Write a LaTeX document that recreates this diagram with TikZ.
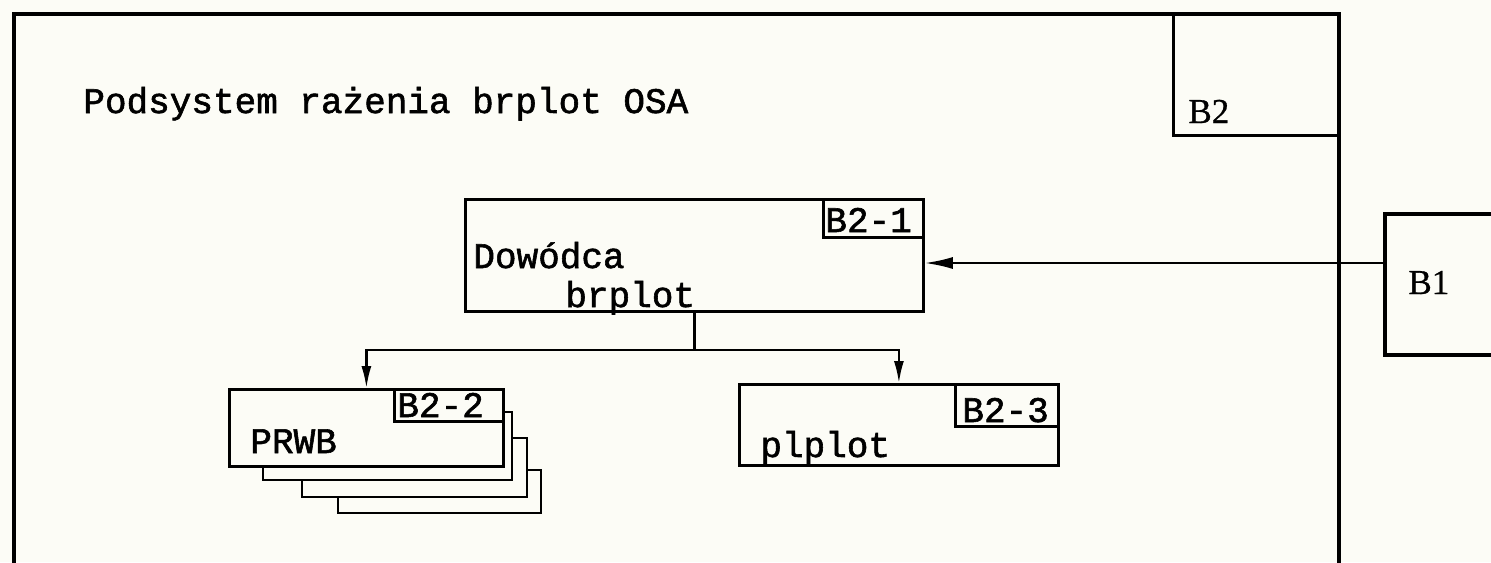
\documentclass[tikz,border=0pt]{standalone}
\usepackage{fontspec}
\newfontfamily\maszyna[FakeBold=1.6]{Liberation Mono}
\newfontfamily\szeryf[FakeBold=0.8]{Liberation Serif}
\usetikzlibrary{arrows.meta, positioning, calc}
\definecolor{papier}{RGB}{252,252,246}

\begin{document}
\begin{tikzpicture}[
            x=0.5pt,
            y=-0.5pt,
            >={Latex[length=11pt,width=5pt]},
            blok/.style={draw, line width=1.4pt, anchor=north west, inner sep=0pt},
            etykieta/.style={draw, line width=1.3pt, anchor=north east, inner sep=0pt},
            napis/.style={anchor=base west, inner sep=0pt, font=\maszyna\fontsize{18}{20}\selectfont},
            litera/.style={anchor=base west, inner sep=0pt, font=\szeryf\fontsize{17.5}{20}\selectfont},
            polaczenie/.style={line width=1.1pt}
            ]
            \useasboundingbox (0,0) rectangle (1491,562);
            \clip (0,0) rectangle (1491,562);
            \fill[papier] (0,0) rectangle (1491,562);

            % podsystem B2
            \node[blok, line width=2pt, minimum width=662.5pt, minimum height=320pt] (b2) at (12,12) {};
            \node[etykieta, minimum width=83pt, minimum height=61pt] (b2e) at (b2.north east) {};
            \node[litera] (b2n) at (1188,123) {B2};
            \node[napis] (tytul) at (83,113) {Podsystem rażenia brplot OSA};

            % blok B1
            \node[blok, line width=2.2pt, minimum width=100pt, minimum height=70.5pt] (b1) at (1383,212) {};
            \node[litera] (b1n) at (1408,294) {B1};

            % dowódca
            \node[blok, minimum width=229pt, minimum height=56pt] (dowodca) at (464,198) {};
            \node[etykieta, minimum width=50pt, minimum height=19pt] (dowodcae) at (dowodca.north east) {};
            \node[napis] (dowodcak) at (825,232) {B2-1};
            \node[napis] (dowodcan) at (473,268) {Dowódca};
            \node[napis] (brplot) at (565,307) {brplot};

            % PRWB
            \node[blok, minimum width=137pt, minimum height=38.5pt] (prwb) at (228,388) {};
            \node[etykieta, minimum width=54.5pt, minimum height=16pt] (prwbe) at (prwb.north east) {};
            \node[napis] (prwbk) at (397,417) {B2-2};
            \node[napis] (prwbn) at (250,453) {PRWB};

            % kopie PRWB
            \draw[line width=1.3pt] (502,412) -- (512,412) -- (512,480) -- (263,480) -- (263,465);
            \draw[line width=1.3pt] (512,438) -- (527,438) -- (527,497) -- (302,497) -- (302,480);
            \draw[line width=1.3pt] (527,470) -- (541,470) -- (541,513) -- (338,513) -- (338,497);

            % plplot
            \node[blok, minimum width=159.5pt, minimum height=40.5pt] (plplot) at (738,383) {};
            \node[etykieta, minimum width=51.5pt, minimum height=21pt] (plplote) at (plplot.north east) {};
            \node[napis] (plplotk) at (962,422) {B2-3};
            \node[napis] (plplotn) at (760,457) {plplot};

            % połączenia
            \draw[polaczenie] (dowodca.south) -- ++(0,37) coordinate (wezel);
            \draw[polaczenie, ->] (wezel) -| (prwb.north);
            \draw[polaczenie, ->] (wezel) -| (plplot.north);
            \coordinate (wejscie) at (dowodca.east |- 0,263);
            \draw[polaczenie, -{Latex[length=14pt,width=6pt]}] (b1.west |- wejscie) -- (wejscie);
        \end{tikzpicture}
\end{document}
